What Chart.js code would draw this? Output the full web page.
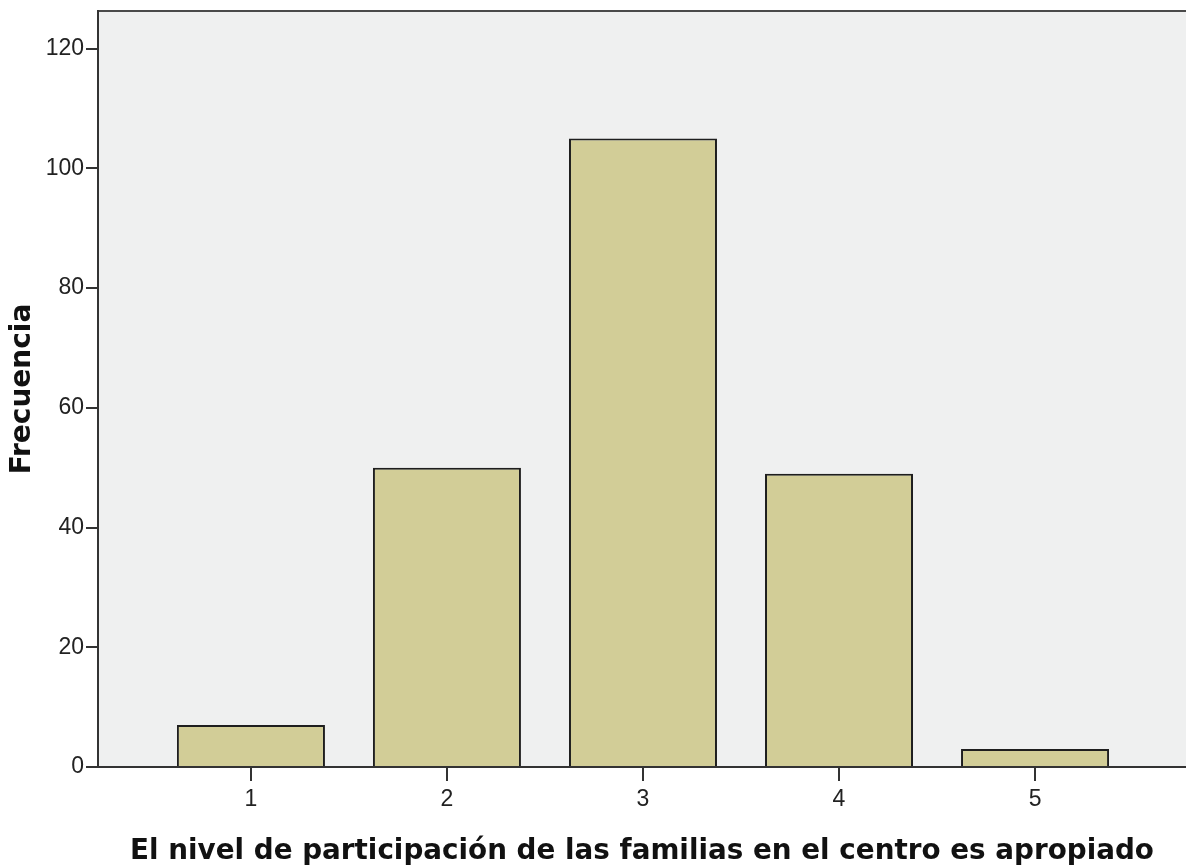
<!DOCTYPE html>
<html>
<head>
<meta charset="utf-8">
<script src="https://cdn.jsdelivr.net/npm/chart.js@4.4.1/dist/chart.umd.min.js"></script>
<style>
html,body{margin:0;padding:0;background:#fff;}
#wrap{width:1186px;height:868px;position:relative;}
</style>
</head>
<body>
<div id="wrap"><canvas id="c" width="1186" height="868"></canvas></div>
<script>
const categories = [1, 2, 3, 4, 5];
const frecuencia = [7, 50, 105, 49, 3];
const yTicks = [0, 20, 40, 60, 80, 100, 120];
const xTitle = 'El nivel de participación de las familias en el centro es apropiado';
const yTitle = 'Frecuencia';

const areaPlugin = {
  id: 'areaBg',
  beforeDraw(chart) {
    const {ctx, chartArea: a} = chart;
    ctx.save();
    ctx.fillStyle = '#eff0f0';
    ctx.fillRect(a.left, a.top, a.right - a.left, a.bottom - a.top);
    ctx.strokeStyle = '#4a4a4a';
    ctx.lineWidth = 2;
    ctx.beginPath();
    ctx.moveTo(a.left, a.top);
    ctx.lineTo(a.right, a.top);
    ctx.stroke();
    ctx.restore();
  }
};

const tickFont = {family: "'Liberation Sans Narrow', 'Liberation Sans', sans-serif", size: 23};

new Chart(document.getElementById('c'), {
  type: 'bar',
  data: {
    datasets: [{
      data: categories.map((c, i) => ({x: c, y: frecuencia[i]})),
      backgroundColor: '#d2cd97',
      borderColor: '#1e1e1e',
      borderWidth: 2,
      categoryPercentage: 1,
      barPercentage: 0.755
    }]
  },
  options: {
    responsive: false,
    animation: false,
    layout: {padding: {top: 11, right: 0, left: 0, bottom: 0}},
    plugins: {legend: {display: false}, tooltip: {enabled: false}},
    scales: {
      x: {
        type: 'linear',
        offset: false,
        min: 0.22,
        max: 5.77,
        afterBuildTicks(s) { s.ticks = categories.map(v => ({value: v})); },
        afterFit(s) { s.height = 101; s.paddingLeft = 0; s.paddingRight = 0; },
        grid: {display: true, offset: false, drawOnChartArea: false, color: '#333', lineWidth: 2, tickLength: 14},
        border: {display: true, color: '#333', width: 2},
        ticks: {color: '#222', font: tickFont, padding: 5, maxRotation: 0},
        title: {display: true, text: xTitle, color: '#111', font: {family: "'DejaVu Sans', sans-serif", size: 27.8, weight: 'bold'}, padding: {top: 9, bottom: 0}}
      },
      y: {
        min: 0,
        max: 126.3,
        afterBuildTicks(s) { s.ticks = yTicks.map(v => ({value: v})); },
        afterFit(s) { s.width = 98; s.paddingTop = 0; s.paddingBottom = 0; },
        grid: {display: true, drawOnChartArea: false, color: '#333', lineWidth: 2, tickLength: 12},
        border: {display: true, color: '#333', width: 2},
        ticks: {color: '#222', font: tickFont, padding: 2},
        title: {display: true, text: yTitle, color: '#111', font: {family: "'DejaVu Sans', sans-serif", size: 28, weight: 'bold'}, padding: {top: 6, bottom: 0}}
      }
    }
  },
  plugins: [areaPlugin]
});
</script>
</body>
</html>
